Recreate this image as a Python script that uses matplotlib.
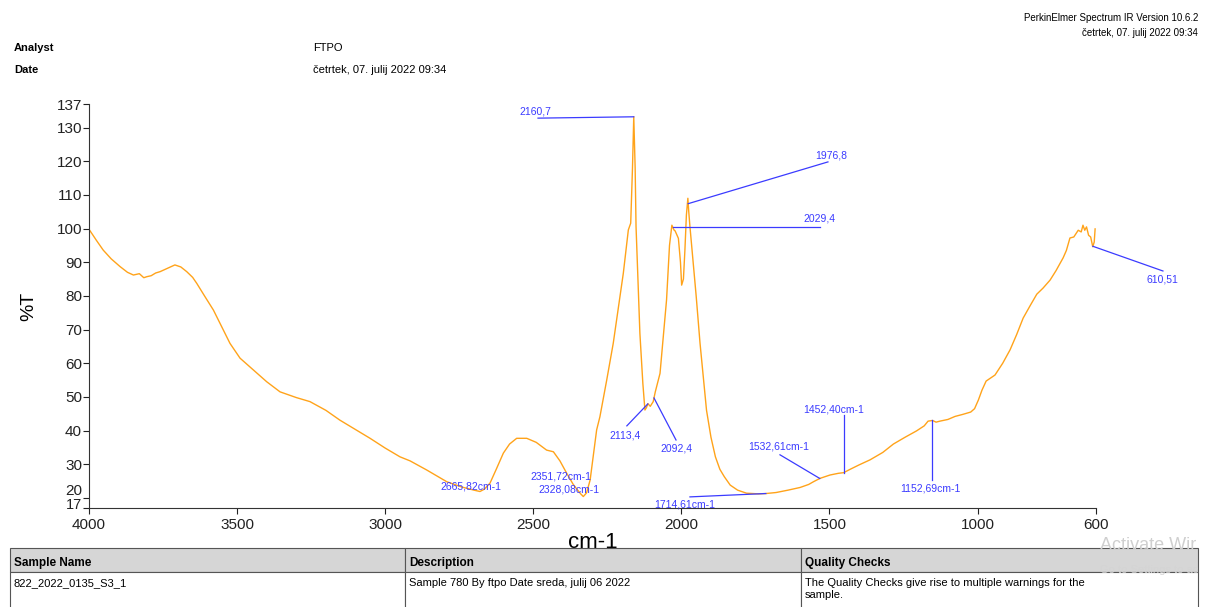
"""IR transmission spectrum with peak labels, report-style page."""

import matplotlib.pyplot as plt
import matplotlib.transforms as mtransforms
import numpy as np
from matplotlib.patches import Rectangle

plt.rcParams["font.family"] = ["Liberation Sans", "DejaVu Sans"]

# spectrum, wavenumber (cm-1) and %T
wavenumber = [
    4000, 3975, 3952, 3925, 3895, 3870, 3850, 3830, 3815, 3805, 3790, 3775,
    3760, 3740, 3725, 3710, 3690, 3670, 3650, 3636, 3610, 3580, 3550, 3524,
    3490, 3445, 3400, 3355, 3300, 3254, 3200, 3153, 3100, 3051, 3000, 2950,
    2916, 2860, 2792, 2740, 2700, 2680, 2665, 2646, 2625, 2601, 2580, 2556,
    2522, 2490, 2455, 2432, 2410, 2387, 2365, 2351, 2340, 2331, 2320, 2308,
    2286, 2275, 2252, 2230, 2196, 2179, 2171, 2165, 2160.7, 2156, 2153, 2140,
    2130, 2123, 2118, 2113, 2105, 2095, 2088, 2072, 2050, 2040, 2032, 2025,
    2021, 2010, 2003, 1999, 1993, 1988, 1983, 1978, 1975, 1971, 1960, 1950,
    1937, 1925, 1915, 1900, 1885, 1870, 1855, 1835, 1810, 1780, 1740, 1714,
    1680, 1640, 1599, 1570, 1554, 1532, 1498, 1470, 1452, 1430, 1400, 1363,
    1320, 1284, 1245, 1206, 1180, 1167, 1152, 1140, 1127, 1100, 1076, 1050,
    1023, 1010, 997, 985, 971, 941, 915, 890, 868, 846, 823, 800, 779, 755,
    735, 711, 700, 688, 675, 660, 650, 644, 638, 632, 625, 618, 611, 606, 603,
]
transmittance = [
    99.8, 96.5, 93.6, 91.0, 88.7, 87.0, 86.2, 86.6, 85.4, 85.7, 86.0, 86.8,
    87.2, 88.0, 88.6, 89.2, 88.6, 87.2, 85.5, 83.7, 80.0, 75.8, 70.5, 65.9,
    61.5, 58.0, 54.5, 51.5, 49.8, 48.6, 46.0, 43.1, 40.3, 37.7, 34.8, 32.2,
    31.0, 28.3, 24.8, 23.2, 22.3, 21.9, 22.6, 24.4, 28.5, 33.3, 36.0, 37.7,
    37.7, 36.5, 34.2, 33.7, 31.0, 27.3, 24.0, 22.4, 21.2, 20.4, 21.5, 25.3,
    40.2, 44.1, 55.0, 65.9, 86.7, 99.6, 101.6, 118.0, 133.2, 118.0, 100.6, 68.9,
    54.0, 46.1, 46.8, 48.0, 47.2, 48.6, 51.5, 57.0, 78.8, 95.0, 101.0, 99.6,
    99.3, 97.1, 90.0, 83.2, 85.0, 93.6, 104.0, 109.0, 105.0, 100.6, 89.7, 80.0,
    66.0, 55.0, 46.0, 38.0, 32.2, 28.5, 26.3, 23.8, 22.3, 21.4, 21.2, 21.3,
    21.6, 22.3, 23.1, 24.0, 24.8, 25.8, 26.8, 27.3, 27.5, 28.5, 29.8, 31.3,
    33.5, 36.0, 38.0, 39.9, 41.4, 42.8, 43.0, 42.5, 42.8, 43.3, 44.2, 44.8,
    45.5, 46.5, 49.1, 52.0, 54.7, 56.5, 60.0, 64.0, 68.5, 73.4, 77.0, 80.5,
    82.3, 84.7, 87.5, 91.3, 93.5, 97.2, 97.5, 99.5, 99.0, 101.0, 99.5, 100.5,
    98.0, 97.5, 94.6, 96.0, 99.9,
]

# labelled peaks
peak_wn = [2160.7, 1976.8, 2029.4, 610.51, 2113.4, 2092.4, 1532.61, 1452.40,
           1152.69, 1714.61, 2665.82, 2351.72, 2328.08]
peak_text = ["2160,7", "1976,8", "2029,4", "610,51", "2113,4", "2092,4",
             "1532,61cm-1", "1452,40cm-1", "1152,69cm-1", "1714,61cm-1",
             "2665,82cm-1", "2351,72cm-1", "2328,08cm-1"]

x_ticks = [4000, 3500, 3000, 2500, 2000, 1500, 1000, 600]
y_ticks = [17, 20, 30, 40, 50, 60, 70, 80, 90, 100, 110, 120, 130, 137]

table_head = ["Sample Name", "Description", "Quality Checks"]
table_row = ["822_2022_0135_S3_1", "Sample 780 By ftpo Date sreda, julij 06 2022",
             "The Quality Checks give rise to multiple warnings for the\nsample."]

# label layout: text anchor (left, centre) and connector start
label_pos = [(2548, 134.9), (1549, 121.6), (1589, 103.1), (431, 85.0),
             (2244, 38.4), (2072, 34.8), (1775, 35.4), (1589, 46.4),
             (1262, 22.7), (2092, 17.9), (2815, 23.5), (2508, 26.5),
             (2484, 22.4)]
line_start = [(2484, 132.8), (1505, 119.8), (1532, None), (374, 87.4),
              (2184, 41.4), (2018, 37.2), (1667, 32.8), (1452.4, 44.6),
              (1152.69, 25.3), (1971, 20.3), None, None, None]

LINE = "#ffa31a"
BLUE = "#3b3bff"

fig = plt.figure(figsize=(12.15, 6.07), dpi=100)
ax = fig.add_axes([89 / 1215, 99 / 607, 1007 / 1215, 404 / 607])

wn = np.array(wavenumber)
tr = np.array(transmittance)
ax.plot(wn, tr, color=LINE, lw=1.0)

curve_at = lambda w: np.interp(w, wn[::-1], tr[::-1])
for w, txt, (tx, ty), start in zip(peak_wn, peak_text, label_pos, line_start):
    ax.text(tx, ty, txt, color=BLUE, fontsize=7.5, ha="left", va="center",
            clip_on=False)
    if start is None:
        continue
    sx, sy = start
    yv = curve_at(w)
    if sy is None:
        sy = yv
    ax.plot([sx, w], [sy, yv], color=BLUE, lw=0.9, clip_on=False)

ax.set_xlim(4000, 600)
ax.set_ylim(17, 137)
ax.set_xticks(x_ticks)
ax.set_yticks(y_ticks)
ax.tick_params(labelsize=11, length=4, width=0.8, colors="#222222", pad=1)
ax.tick_params(axis="x", pad=3)
# the 17 and 20 labels sit very close; nudge them apart
ylabels = ax.get_yticklabels()
ylabels[0].set_fontsize(10.5)
ylabels[0].set_transform(ylabels[0].get_transform()
                         + mtransforms.ScaledTranslation(0, 3 / 72, fig.dpi_scale_trans))
ylabels[1].set_va("bottom")
for side in ("top", "right"):
    ax.spines[side].set_visible(False)
for side in ("left", "bottom"):
    ax.spines[side].set_color("#333333")
ax.set_xlabel("cm-1", fontsize=16, labelpad=0)
ax.set_ylabel("%T", fontsize=14, labelpad=14)

# page header
fig.text(14 / 1215, 1 - 48 / 607, "Analyst", fontsize=8, weight="bold", va="center")
fig.text(14 / 1215, 1 - 70 / 607, "Date", fontsize=8, weight="bold", va="center")
fig.text(313 / 1215, 1 - 48 / 607, "FTPO", fontsize=8, va="center")
fig.text(313 / 1215, 1 - 70 / 607, "četrtek, 07. julij 2022 09:34", fontsize=8, va="center")
fig.text(1198 / 1215, 1 - 18 / 607, "PerkinElmer Spectrum IR Version 10.6.2",
         fontsize=7, ha="right", va="center")
fig.text(1198 / 1215, 1 - 33 / 607, "četrtek, 07. julij 2022 09:34",
         fontsize=7, ha="right", va="center")

# sample table
cols = [10, 405, 801, 1198]
top, mid, bot = 548, 572, 607
for i in range(3):
    x0, x1 = cols[i], cols[i + 1]
    fig.add_artist(Rectangle((x0 / 1215, 1 - mid / 607), (x1 - x0) / 1215,
                             (mid - top) / 607, transform=fig.transFigure,
                             facecolor="#d6d6d6", edgecolor="#555555", lw=0.8))
    fig.add_artist(Rectangle((x0 / 1215, 1 - bot / 607 - 0.01), (x1 - x0) / 1215,
                             (bot - mid) / 607 + 0.01, transform=fig.transFigure,
                             facecolor="white", edgecolor="#555555", lw=0.8))
    fig.text((x0 + 4) / 1215, 1 - 563 / 607, table_head[i], fontsize=8.5,
             weight="bold", va="center")
    fig.text((x0 + 4) / 1215, 1 - 578 / 607, table_row[i], fontsize=8,
             va="top", linespacing=1.3)

fig.text(1100 / 1215, 1 - 546 / 607, "Activate Wir", fontsize=13,
         color="#cfcfcf", va="center")
fig.text(1100 / 1215, 1 - 570 / 607, "Go to Settings to ac",
         fontsize=8, color="#d4d4d4", va="center")

fig.savefig("out.png", dpi=100)
